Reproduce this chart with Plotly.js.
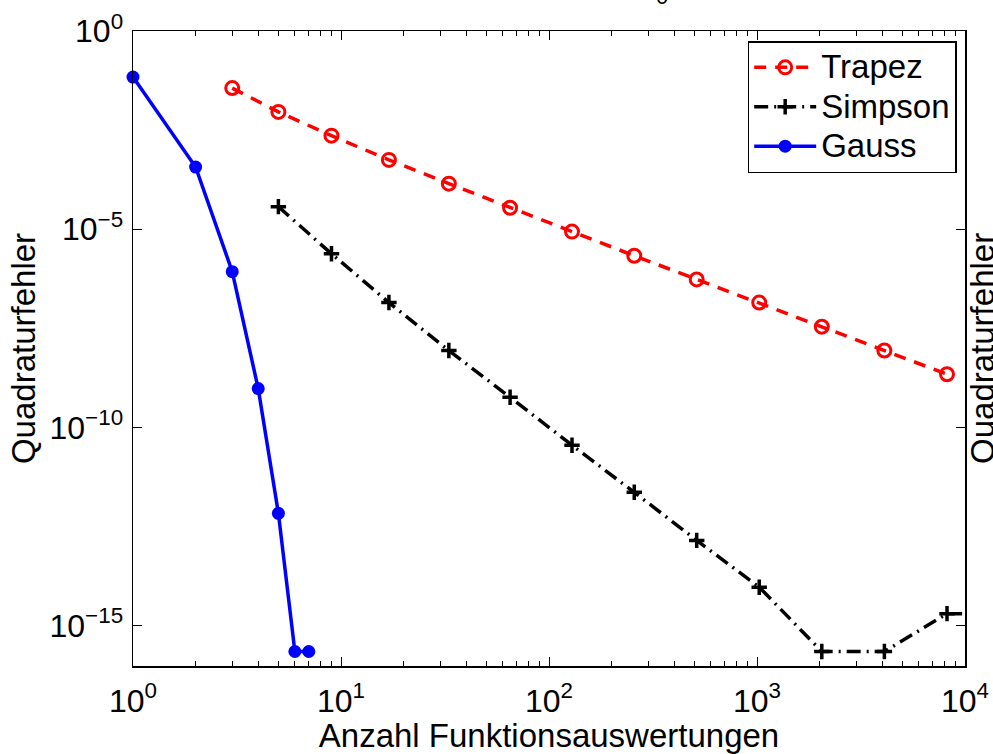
<!DOCTYPE html>
<html>
<head>
<meta charset="utf-8">
<script src="https://cdn.plot.ly/plotly-3.0.1.min.js"></script>
<style>html,body{margin:0;padding:0;background:#fff;}#chart{width:993px;height:754px;}</style>
</head>
<body>
<div id="chart"></div>
<script>
// Data
const trapezN = [3, 5, 9, 17, 33, 65, 129, 257, 513, 1025, 2049, 4097, 8193];
const trapezErr = [3.63e-2, 9.1e-3, 2.29e-3, 5.6e-4, 1.41e-4, 3.47e-5, 8.7e-6, 2.14e-6, 5.4e-7, 1.41e-7, 3.47e-8, 8.7e-9, 2.19e-9];

const simpsonN = [5, 9, 17, 33, 65, 129, 257, 513, 1025, 2049, 4097, 8193, 16385];
const simpsonErr = [3.7e-5, 2.4e-6, 1.41e-7, 8.7e-9, 5.75e-10, 3.55e-11, 2.3e-12, 1.41e-13, 9.3e-15, 2.22e-16, 2.22e-16, 2.0e-15, 2.0e-15];

const gaussN = [1, 2, 3, 4, 5, 6, 7];
const gaussErr = [6.9e-2, 3.7e-4, 8.5e-7, 9.5e-10, 6.8e-13, 2.22e-16, 2.22e-16];

const xTickVals = [1, 10, 100, 1000, 10000];
const xTickText = ['10<sup>0</sup>', '10<sup>1</sup>', '10<sup>2</sup>', '10<sup>3</sup>', '10<sup>4</sup>'];
const yTickVals = [1, 1e-5, 1e-10, 1e-15];
const yTickText = ['10<sup>0</sup>', '10<sup>\u22125</sup>', '10<sup>\u221210</sup>', '10<sup>\u221215</sup>'];

const seriesNames = ['Trapez', 'Simpson', 'Gauss'];
const xTitle = 'Anzahl Funktionsauswertungen';
const yTitle = 'Quadraturfehler';

// minor tick positions (2..9 in each decade)
const xMinor = [];
for (let k = 0; k < 4; k++) { for (let m = 2; m <= 9; m++) { xMinor.push(m * Math.pow(10, k)); } }

const FONT = 'Liberation Sans, Arial, Helvetica, sans-serif';
const legendLabel = (s) => '<span style="font-size:33px">' + s + '</span>';

const traces = [
  {
    x: trapezN, y: trapezErr, name: legendLabel(seriesNames[0]), type: 'scatter', mode: 'lines+markers',
    line: {color: '#ff0000', width: 3.5, dash: '12px,9px'},
    marker: {symbol: 'circle-open', size: 13, color: '#ff0000', line: {width: 3, color: '#ff0000'}},
    cliponaxis: false
  },
  {
    x: simpsonN, y: simpsonErr, name: legendLabel(seriesNames[1]), type: 'scatter', mode: 'lines+markers',
    line: {color: '#000000', width: 3.5, dash: '14px,6px,2px,6px'},
    marker: {symbol: 'cross-thin-open', size: 11, color: '#000000', line: {width: 3.5, color: '#000000'}},
    cliponaxis: true
  },
  {
    x: gaussN, y: gaussErr, name: legendLabel(seriesNames[2]), type: 'scatter', mode: 'lines+markers',
    line: {color: '#0000ff', width: 3.5},
    marker: {symbol: 'circle', size: 13, color: '#0000ff'},
    cliponaxis: false
  }
];

const layout = {
  width: 993, height: 754,
  margin: {l: 133, r: 28, t: 31, b: 88, pad: 0},
  paper_bgcolor: '#ffffff', plot_bgcolor: '#ffffff',
  font: {family: FONT, size: 32, color: '#000000'},
  showlegend: true,
  xaxis: {
    type: 'log', range: [0, 4], autorange: false,
    tickmode: 'array', tickvals: xTickVals, ticktext: xTickText,
    ticks: 'inside', ticklen: 9, tickwidth: 1, tickcolor: '#000',
    minor: {tickmode: 'array', tickvals: xMinor, ticks: 'inside', ticklen: 5, tickwidth: 1, tickcolor: '#000', showgrid: false},
    showline: true, linecolor: '#000', linewidth: 1.5, mirror: 'ticks',
    showgrid: false, zeroline: false,
    tickfont: {family: FONT, size: 32, color: '#000'},
    ticklabelstandoff: 6,
    title: {text: xTitle, font: {family: FONT, size: 33, color: '#000'}, standoff: 0},
    automargin: false
  },
  yaxis: {
    type: 'log', range: [-16.02, 0], autorange: false,
    tickmode: 'array', tickvals: yTickVals, ticktext: yTickText,
    ticks: 'inside', ticklen: 9, tickwidth: 1, tickcolor: '#000',
    showline: true, linecolor: '#000', linewidth: 1.5, mirror: 'ticks',
    showgrid: false, zeroline: false,
    tickfont: {family: FONT, size: 32, color: '#000'},
    ticklabelstandoff: 2,
    title: {text: yTitle, font: {family: FONT, size: 33, color: '#000'}, standoff: 4},
    automargin: false
  },
  legend: {
    x: 0.990, y: 0.984, xanchor: 'right', yanchor: 'top',
    bgcolor: '#ffffff', bordercolor: '#000000', borderwidth: 1.5,
    font: {family: FONT, size: 28, color: '#000'},
    itemwidth: 62, tracegroupgap: 0
  },
  annotations: [
    {xref: 'paper', yref: 'paper', x: 1.021, y: 0.5, xanchor: 'center', yanchor: 'middle',
     text: yTitle, textangle: -90, showarrow: false, font: {family: FONT, size: 33, color: '#000'}},
    {xref: 'paper', yref: 'paper', x: (662 - 133) / 832, y: 1 + 34 / 635, xanchor: 'center', yanchor: 'middle',
     text: '0', showarrow: false, font: {family: FONT, size: 22, color: '#000'}}
  ]
};

Plotly.newPlot('chart', traces, layout, {displayModeBar: false, staticPlot: true});
</script>
</body>
</html>
